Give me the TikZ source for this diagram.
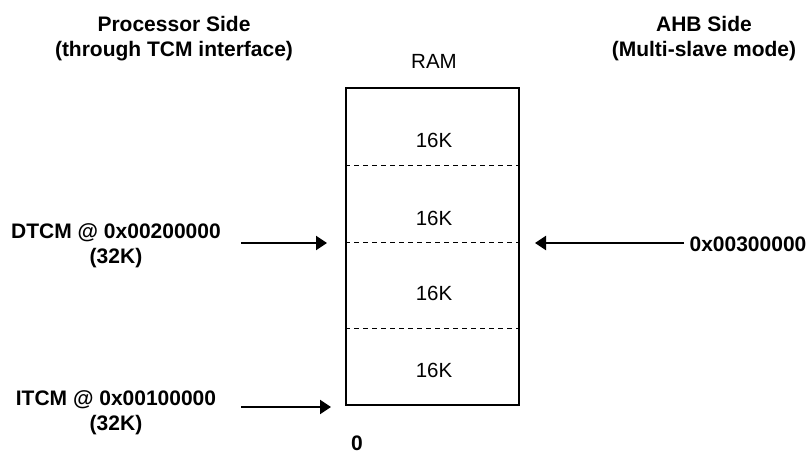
\documentclass[tikz,border=0pt]{standalone}
\usepackage{fontspec}
\setmainfont{Liberation Sans}
\usetikzlibrary{arrows.meta}
\tikzset{
  lbl/.style={inner sep=0pt, align=center, font=\fontsize{21}{25}\selectfont\bfseries, anchor=base},
  reg/.style={inner sep=0pt, font=\fontsize{20.5}{25}\selectfont, anchor=base},
  arr/.style={line width=2.2pt, -{Triangle[length=11pt,width=14pt]}},
  sep/.style={line width=1pt, dash pattern=on 5pt off 4pt},
}
\begin{document}
\begin{tikzpicture}[x=1pt,y=-1pt]
\useasboundingbox (0,0) rectangle (809,456);
% RAM block
\node[draw, line width=2pt, minimum width=173pt, minimum height=317pt, inner sep=0pt] (ram) at (432.5,246.5) {};
\node[reg] (ramlbl) at (434,68) {RAM};
% separators
\draw[sep] (ram.west |- 0,165) -- (ram.east |- 0,165);
\draw[sep] (ram.west |- 0,242) -- (ram.east |- 0,242);
\draw[sep] (ram.west |- 0,328) -- (ram.east |- 0,328);
% sizes
\node[reg, anchor=center] (k1) at (434,140) {16K};
\node[reg, anchor=center] (k2) at (434,218) {16K};
\node[reg, anchor=center] (k3) at (434,293) {16K};
\node[reg, anchor=center] (k4) at (434,370) {16K};
% headings (anchor base = baseline of last line)
\node[lbl] (proc) at (174,56) {Processor Side\\(through TCM interface)};
\node[lbl] (ahb) at (704,56) {AHB Side\\(Multi-slave mode)};
% side labels
\node[lbl] (dtcm) at (116,263) {DTCM @ 0x00200000\\(32K)};
\node[lbl] (itcm) at (116,430) {ITCM @ 0x00100000\\(32K)};
\node[lbl] (ahbaddr) at (748,251) {0x00300000};
\node[lbl] (zero) at (357,450) {0};
% arrows
\coordinate (d1) at (241,243);
\coordinate (d2) at (327,243);
\coordinate (i1) at (241,407);
\coordinate (i2) at (331,407);
\coordinate (a1) at (684,243);
\coordinate (a2) at (535,243);
\draw[arr] (d1) -- (d2);
\draw[arr] (i1) -- (i2);
\draw[arr] (a1) -- (a2);
\end{tikzpicture}
\end{document}
